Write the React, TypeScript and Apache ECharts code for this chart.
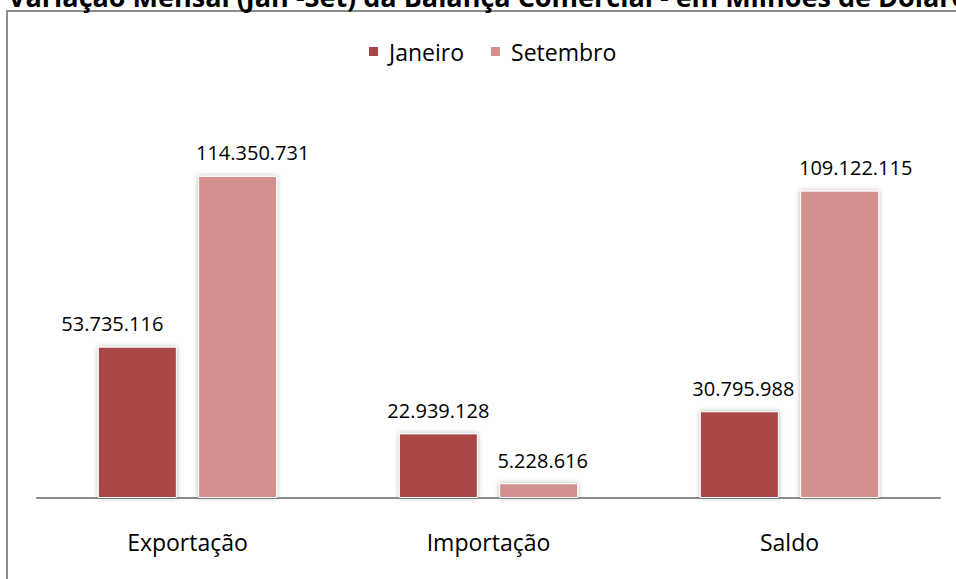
import React, { useEffect, useRef } from "react";
import * as echarts from "echarts";

const categories = ["Exportação", "Importação", "Saldo"];
const janeiro = [53735116, 22939128, 30795988];
const setembro = [114350731, 5228616, 109122115];
const seriesNames = ["Janeiro", "Setembro"];
const janLabelOffsets = [-25, 0, 4];
const setLabelOffsets = [15, 4, 16];
const titleText = "Variação Mensal (Jan -Set) da Balança Comercial - em Milhões de Dólares";

const fmt = (v: number) => v.toString().replace(/\B(?=(\d{3})+(?!\d))/g, ".");

export default function App() {
  const ref = useRef<HTMLDivElement>(null);
  useEffect(() => {
    if (!ref.current) return;
    const chart = echarts.init(ref.current, null, { renderer: "svg" });
    const font = "'Open Sans', sans-serif";
    const mk = (vals: number[], offs: number[]) =>
      vals.map((v, i) => ({ value: v, label: { offset: [offs[i], 0] } }));
    const barLabel = {
      show: true,
      position: "top",
      distance: 13,
      formatter: (p: any) => fmt(p.value),
      fontFamily: font,
      fontSize: 20,
      color: "#000",
    };
    chart.setOption({
      animation: false,
      backgroundColor: "#ffffff",
      graphic: [
        {
          type: "rect",
          shape: { x: 7, y: 11, width: 1000, height: 700 },
          style: { fill: "none", stroke: "#8c8c8c", lineWidth: 2 },
          z: 0,
        },
        {
          type: "text",
          x: 8,
          y: 10,
          style: {
            text: titleText,
            font: "bold 27px 'Open Sans', sans-serif",
            fill: "#000",
            verticalAlign: "bottom",
          },
        },
      ],
      legend: {
        top: 35,
        left: 362,
        itemWidth: 11,
        itemHeight: 11,
        itemGap: 25,
        icon: "rect",
        textStyle: { fontFamily: font, fontSize: 23, color: "#000", padding: [0, 0, 0, 5] },
        data: seriesNames,
      },
      grid: { left: 37, right: 16, top: 80, bottom: 81 },
      xAxis: {
        type: "category",
        data: categories,
        axisLine: { lineStyle: { color: "#8c8c8c", width: 2 } },
        axisTick: { show: false },
        axisLabel: { fontFamily: font, fontSize: 23, color: "#000", margin: 32 },
      },
      yAxis: {
        type: "value",
        min: 0,
        max: 148400000,
        show: false,
        splitLine: { show: false },
      },
      series: [
        {
          name: seriesNames[0],
          type: "bar",
          data: mk(janeiro, janLabelOffsets),
          barWidth: 79,
          barGap: "27%",
          itemStyle: {
            color: "#A84644",
            borderColor: "#ffffff",
            borderWidth: 1,
            shadowBlur: 5,
            shadowColor: "rgba(0,0,0,0.3)",
          },
          label: barLabel,
        },
        {
          name: seriesNames[1],
          type: "bar",
          data: mk(setembro, setLabelOffsets),
          barWidth: 79,
          barGap: "27%",
          itemStyle: {
            color: "#D29190",
            borderColor: "#ffffff",
            borderWidth: 1,
            shadowBlur: 5,
            shadowColor: "rgba(0,0,0,0.3)",
          },
          label: barLabel,
        },
      ],
    });
    return () => chart.dispose();
  }, []);
  return (
    <div
      ref={ref}
      style={{ position: "fixed", left: 0, top: 0, width: 956, height: 579 }}
    />
  );
}
